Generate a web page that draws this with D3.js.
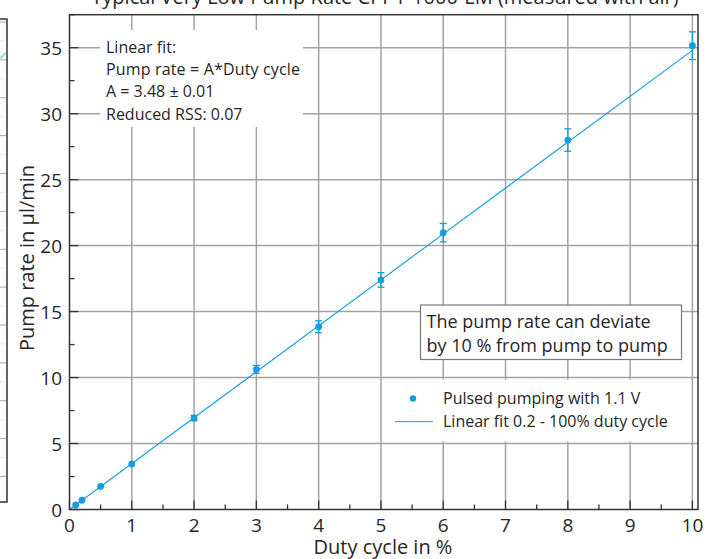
<!DOCTYPE html>
<html>
<head>
<meta charset="utf-8">
<script src="https://cdn.jsdelivr.net/npm/d3@7"></script>
<style>
  body { margin: 0; background: #fff; }
  svg { display: block; font-family: "Open Sans", "Noto Sans", sans-serif; }
</style>
</head>
<body>
<svg id="chart" width="718" height="559"></svg>
<script>
// measured points
var dutyCycle = [0.1, 0.2, 0.5, 1, 2, 3, 4, 5, 6, 8, 10];
var pumpRate  = [0.34, 0.70, 1.75, 3.45, 6.93, 10.62, 13.85, 17.4, 20.98, 28.0, 35.15];
var rateError = [0.03, 0.05, 0.08, 0.12, 0.2, 0.3, 0.45, 0.55, 0.7, 0.85, 1.05];

// linear fit
var fitSlope = 3.48;
var fitRange = [0, 10];

var xTicks = [0, 1, 2, 3, 4, 5, 6, 7, 8, 9, 10];
var yTicks = [0, 5, 10, 15, 20, 25, 30, 35];

var fitText = ["Linear fit:", "Pump rate = A*Duty cycle", "A = 3.48 \u00b1 0.01", "Reduced RSS: 0.07"];
var noteText = ["The pump rate can deviate", "by 10 % from pump to pump"];
var legendText = ["Pulsed pumping with 1.1 V", "Linear fit 0.2 - 100% duty cycle"];

var blue = "#119de0";
var gridColor = "#a3a3a3";
var textColor = "#262626";

var svg = d3.select("#chart");
var margin = { left: 69.5, right: 20, top: 14.7, bottom: 49.5 };
var W = 718, H = 559;

var x = d3.scaleLinear().domain([0, 10.09]).range([margin.left, W - margin.right]);
var y = d3.scaleLinear().domain([0, 37.5]).range([H - margin.bottom, margin.top]);

// fragment of the neighbouring chart at the far left
var side = svg.append("g");
var sideY = d3.scaleLinear().domain([0, 12]).range([476.5, 22]);
side.selectAll(".sg").data(d3.range(0, 13))
  .enter().append("line")
    .attr("x1", 0).attr("x2", 7)
    .attr("y1", d => sideY(d)).attr("y2", d => sideY(d))
    .attr("stroke", "#aaa").attr("stroke-width", 1);
side.selectAll(".sm").data(d3.range(0, 12))
  .enter().append("line")
    .attr("x1", 0).attr("x2", 7)
    .attr("y1", d => sideY(d + 0.5)).attr("y2", d => sideY(d + 0.5))
    .attr("stroke", "#ccc").attr("stroke-width", 1)
    .attr("stroke-dasharray", "1,2");
side.append("path")
    .attr("d", "M0,19H7V502H0")
    .attr("fill", "none").attr("stroke", "#333").attr("stroke-width", 1.5);
side.append("line")
    .attr("x1", 0).attr("y1", 58.5).attr("x2", 7).attr("y2", 51.5)
    .attr("stroke", blue).attr("stroke-width", 1);

// grid
var grid = svg.append("g");
grid.selectAll(".gx").data(xTicks.slice(1))
  .enter().append("line")
    .attr("x1", d => x(d)).attr("x2", d => x(d))
    .attr("y1", y.range()[0]).attr("y2", y.range()[1])
    .attr("stroke", gridColor).attr("stroke-width", 1.5);
grid.selectAll(".gy").data(yTicks.slice(1))
  .enter().append("line")
    .attr("x1", x.range()[0]).attr("x2", x.range()[1])
    .attr("y1", d => y(d)).attr("y2", d => y(d))
    .attr("stroke", gridColor).attr("stroke-width", 1.5);

// minor + major ticks (inward)
var ticks = svg.append("g").attr("stroke", "#333").attr("stroke-width", 1.3);
ticks.selectAll(".mx").data(d3.range(0, 10).map(d => d + 0.5))
  .enter().append("line")
    .attr("x1", d => x(d)).attr("x2", d => x(d))
    .attr("y1", y(0)).attr("y2", y(0) - 5);
ticks.selectAll(".Mx").data(xTicks)
  .enter().append("line")
    .attr("x1", d => x(d)).attr("x2", d => x(d))
    .attr("y1", y(0)).attr("y2", y(0) - 9);
ticks.selectAll(".my").data(d3.range(0, 37, 5).map(d => d + 2.5))
  .enter().append("line")
    .attr("x1", x(0)).attr("x2", x(0) + 5)
    .attr("y1", d => y(d)).attr("y2", d => y(d));
ticks.selectAll(".My").data(yTicks)
  .enter().append("line")
    .attr("x1", x(0)).attr("x2", x(0) + 9)
    .attr("y1", d => y(d)).attr("y2", d => y(d));

// fit-result box (white, no border)
var fitBox = svg.append("g");
fitBox.append("rect")
    .attr("x", 100).attr("y", 30).attr("width", 203).attr("height", 97)
    .attr("fill", "#fff");
fitBox.selectAll("text").data(fitText)
  .enter().append("text")
    .attr("x", 106).attr("y", (d, i) => 53 + i * 22.2)
    .attr("font-size", 16).attr("fill", textColor)
    .attr("textLength", (d, i) => [null, 194, null, null][i])
    .text(d => d);

// note box
var note = svg.append("g");
note.append("rect")
    .attr("x", 420.5).attr("y", 305).attr("width", 261).attr("height", 54.5)
    .attr("fill", "#fff").attr("stroke", "#777").attr("stroke-width", 1.2);
note.selectAll("text").data(noteText)
  .enter().append("text")
    .attr("x", 426.5).attr("y", (d, i) => 328 + i * 23.5)
    .attr("font-size", 18).attr("fill", textColor)
    .text(d => d);

// legend
var legend = svg.append("g");
legend.append("rect")
    .attr("x", 384).attr("y", 379.5).attr("width", 306).attr("height", 62)
    .attr("fill", "#fff");
legend.append("circle")
    .attr("cx", 413).attr("cy", 398.5).attr("r", 3.2).attr("fill", blue);
legend.append("line")
    .attr("x1", 395).attr("x2", 433).attr("y1", 421.7).attr("y2", 421.7)
    .attr("stroke", blue).attr("stroke-width", 1);
legend.selectAll("text").data(legendText)
  .enter().append("text")
    .attr("x", 443).attr("y", (d, i) => 404 + i * 23.3)
    .attr("font-size", 16).attr("fill", textColor)
    .text(d => d);

// fit line
svg.append("line")
    .attr("x1", x(fitRange[0])).attr("y1", y(fitSlope * fitRange[0]))
    .attr("x2", x(fitRange[1])).attr("y2", y(fitSlope * fitRange[1]))
    .attr("stroke", blue).attr("stroke-width", 1.1);

// error bars and points
var pts = dutyCycle.map((d, i) => ({ x: d, y: pumpRate[i], e: rateError[i] }));
var eb = svg.append("g").attr("stroke", blue).attr("stroke-width", 1.3);
pts.filter(d => d.x >= 2).forEach(d => {
  eb.append("line")
    .attr("x1", x(d.x)).attr("x2", x(d.x))
    .attr("y1", y(d.y - d.e)).attr("y2", y(d.y + d.e));
  [d.y - d.e, d.y + d.e].forEach(v => {
    eb.append("line")
      .attr("x1", x(d.x) - 3.5).attr("x2", x(d.x) + 3.5)
      .attr("y1", y(v)).attr("y2", y(v));
  });
});
svg.selectAll(".pt").data(pts)
  .enter().append("circle")
    .attr("cx", d => x(d.x)).attr("cy", d => y(d.y))
    .attr("r", 3.4).attr("fill", blue);

// frame
svg.append("rect")
    .attr("x", x.range()[0]).attr("y", y.range()[1])
    .attr("width", x.range()[1] - x.range()[0])
    .attr("height", y.range()[0] - y.range()[1])
    .attr("fill", "none").attr("stroke", "#333").attr("stroke-width", 1.5);

// tick labels
svg.selectAll(".xl").data(xTicks)
  .enter().append("text")
    .attr("x", d => x(d)).attr("y", 532)
    .attr("text-anchor", "middle")
    .attr("font-size", 19).attr("fill", textColor)
    .text(d => d);
svg.selectAll(".yl").data(yTicks)
  .enter().append("text")
    .attr("x", 62).attr("y", d => y(d) + 7)
    .attr("text-anchor", "end")
    .attr("font-size", 19).attr("fill", textColor)
    .text(d => d);

// axis titles
svg.append("text")
    .attr("x", 383).attr("y", 554)
    .attr("text-anchor", "middle")
    .attr("font-size", 20).attr("fill", textColor)
    .text("Duty cycle in %");
svg.append("text")
    .attr("transform", "translate(34,258) rotate(-90)")
    .attr("text-anchor", "middle")
    .attr("font-size", 20).attr("fill", textColor)
    .text("Pump rate in \u00b5l/min");

// chart title (cut off at the top edge)
svg.append("text")
    .attr("x", 385).attr("y", 4)
    .attr("text-anchor", "middle")
    .attr("font-size", 20).attr("fill", textColor)
    .text("Typical Very Low Pump Rate CPP1-1000-LM (measured with air)");
</script>
</body>
</html>
